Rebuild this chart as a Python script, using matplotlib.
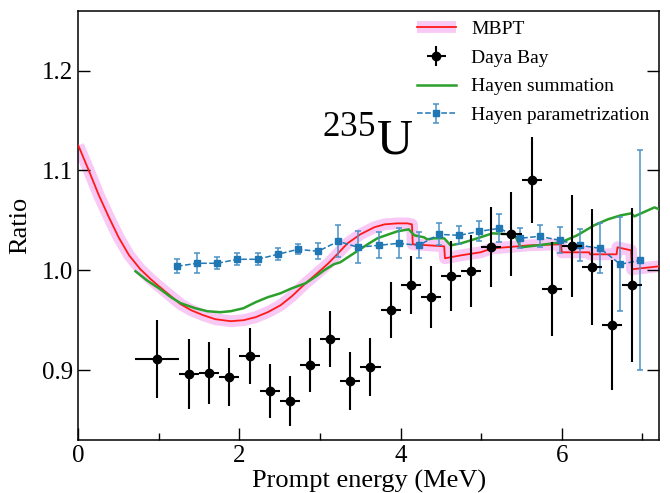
import matplotlib
matplotlib.use("Agg")
import matplotlib.pyplot as plt

plt.rcParams["font.family"] = ["Liberation Serif", "DejaVu Serif"]
plt.rcParams["mathtext.fontset"] = "custom"
plt.rcParams["mathtext.rm"] = "Liberation Serif"

# ── Data ──────────────────────────────────────────────────────────────────────
mbpt_e = [0.00, 0.13, 0.25, 0.38, 0.50, 0.63, 0.77, 0.90, 1.00, 1.15, 1.27,
          1.40, 1.55, 1.70, 1.89, 2.05, 2.20, 2.35, 2.51, 2.65, 2.82, 2.95,
          3.09, 3.20, 3.34, 3.50, 3.67, 3.80, 3.96, 4.08, 4.14,
          4.15, 4.54, 4.55, 4.75, 4.99, 5.14, 5.30, 5.60, 5.99, 6.00, 6.34,
          6.35, 6.68, 6.69, 6.86, 6.87, 7.21]
mbpt_r = [1.125, 1.100, 1.076, 1.053, 1.033, 1.015, 1.001, 0.991, 0.984, 0.974, 0.966,
          0.960, 0.955, 0.951, 0.949, 0.950, 0.953, 0.958, 0.965, 0.974, 0.987, 0.996,
          1.006, 1.015, 1.027, 1.036, 1.043, 1.046, 1.047, 1.047, 1.046,
          1.026, 1.024, 1.012, 1.015, 1.018, 1.022, 1.023, 1.025, 1.026, 1.018, 1.018,
          1.016, 1.016, 1.023, 1.020, 1.001, 1.004]

sum_e = [0.71, 0.85, 1.00, 1.15, 1.27, 1.45, 1.60, 1.76, 1.89, 2.05, 2.20, 2.35,
         2.51, 2.65, 2.82, 2.95, 3.05, 3.17, 3.25, 3.42, 3.59, 3.71, 3.85, 3.96,
         4.10, 4.17, 4.29, 4.33, 4.41, 4.54, 4.62, 4.75, 4.95, 5.14, 5.37, 5.43,
         5.49, 5.70, 5.99, 6.19, 6.40, 6.57, 6.73, 6.86, 6.90, 7.15, 7.21]
sum_r = [0.999, 0.990, 0.982, 0.973, 0.967, 0.962, 0.959, 0.958, 0.959, 0.962, 0.968, 0.973,
         0.977, 0.982, 0.987, 0.994, 1.000, 1.006, 1.008, 1.017, 1.026, 1.032, 1.036, 1.039,
         1.041, 1.035, 1.033, 1.031, 1.032, 1.032, 1.025, 1.027, 1.032, 1.037, 1.036, 1.033,
         1.023, 1.025, 1.028, 1.035, 1.045, 1.051, 1.055, 1.057, 1.054, 1.063, 1.061]

db_e = [0.975, 1.375, 1.625, 1.875, 2.125, 2.375, 2.625, 2.875, 3.125, 3.375,
        3.625, 3.875, 4.125, 4.375, 4.625, 4.875, 5.125, 5.375, 5.625, 5.875,
        6.125, 6.375, 6.625, 6.875]
db_de_lo = [0.275] + [0.125] * 23
db_de_hi = [0.275] + [0.125] * 23
db_r = [0.911, 0.896, 0.897, 0.893, 0.914, 0.879, 0.869, 0.905, 0.931, 0.889,
        0.903, 0.960, 0.985, 0.973, 0.994, 0.999, 1.023, 1.036, 1.090, 0.981,
        1.024, 1.003, 0.945, 0.985]
db_err = [0.039, 0.035, 0.031, 0.029, 0.028, 0.027, 0.025, 0.027, 0.028, 0.029,
          0.029, 0.028, 0.029, 0.031, 0.035, 0.036, 0.040, 0.042, 0.043, 0.047,
          0.051, 0.058, 0.065, 0.077]

par_e = [1.225, 1.475, 1.725, 1.975, 2.225, 2.475, 2.725, 2.975, 3.225, 3.475,
         3.725, 3.975, 4.225, 4.475, 4.725, 4.975, 5.225, 5.475, 5.725, 5.975,
         6.225, 6.475, 6.725, 6.975]
par_r = [1.004, 1.007, 1.007, 1.011, 1.011, 1.016, 1.021, 1.019, 1.029, 1.023,
         1.025, 1.027, 1.025, 1.036, 1.035, 1.039, 1.042, 1.032, 1.034, 1.030,
         1.025, 1.022, 1.006, 1.010]
par_err = [0.007, 0.010, 0.006, 0.006, 0.006, 0.006, 0.005, 0.008, 0.016, 0.016,
           0.013, 0.015, 0.013, 0.011, 0.009, 0.010, 0.014, 0.010, 0.011, 0.013,
           0.016, 0.025, 0.047, 0.110]

# ── Plot ──────────────────────────────────────────────────────────────────────
fig = plt.figure(figsize=(6.7, 4.93), dpi=100)
ax = fig.add_axes([0.1169, 0.1075, 0.8672, 0.8708])

band, = ax.plot(mbpt_e, mbpt_r, color="#f9c9f5", lw=8.5, solid_capstyle="butt", zorder=1)
red, = ax.plot(mbpt_e, mbpt_r, color="#ff1a1a", lw=1.3, zorder=3)

db = ax.errorbar(db_e, db_r, xerr=[db_de_lo, db_de_hi], yerr=db_err, fmt="o",
                 color="black", ms=6, elinewidth=1.5, capsize=0, zorder=5)

green, = ax.plot(sum_e, sum_r, color="#2ca02c", lw=1.8, zorder=4)

par = ax.errorbar(par_e, par_r, yerr=par_err, fmt="s--", color="#1f77b4",
                  ecolor="#4a92c9", ms=4.5, lw=1.1, elinewidth=1.1, capsize=2.5,
                  capthick=1.1, zorder=4)

ax.text(3.02, 1.116, r"$^{235}$U", fontsize=36, va="baseline", ha="left")

ax.set_xlim(0, 7.21)
ax.set_ylim(0.83, 1.26)
ax.set_xticks([0, 2, 4, 6])
ax.set_xticks([1, 3, 5, 7], minor=True)
ax.set_yticks([0.9, 1.0, 1.1, 1.2])
ax.set_yticklabels(["0.9", "1.0", "1.1", "1.2"])
ax.tick_params(axis="both", which="major", direction="in", length=8.5, width=1.0,
               labelsize=18, right=True, top=False)
ax.tick_params(axis="x", which="minor", direction="in", length=5, width=1.0, top=False)
ax.set_xlabel("Prompt energy (MeV)", fontsize=19, labelpad=2)
ax.set_ylabel("Ratio", fontsize=19, labelpad=8)
for s in ax.spines.values():
    s.set_linewidth(1.1)

ax.legend([(band, red), db, green, par],
          ["MBPT", "Daya Bay", "Hayen summation", "Hayen parametrization"],
          loc="upper right", frameon=False, fontsize=14, handlelength=2.0,
          labelspacing=0.57, borderaxespad=0.1)

fig.savefig("out.png", dpi=100)
